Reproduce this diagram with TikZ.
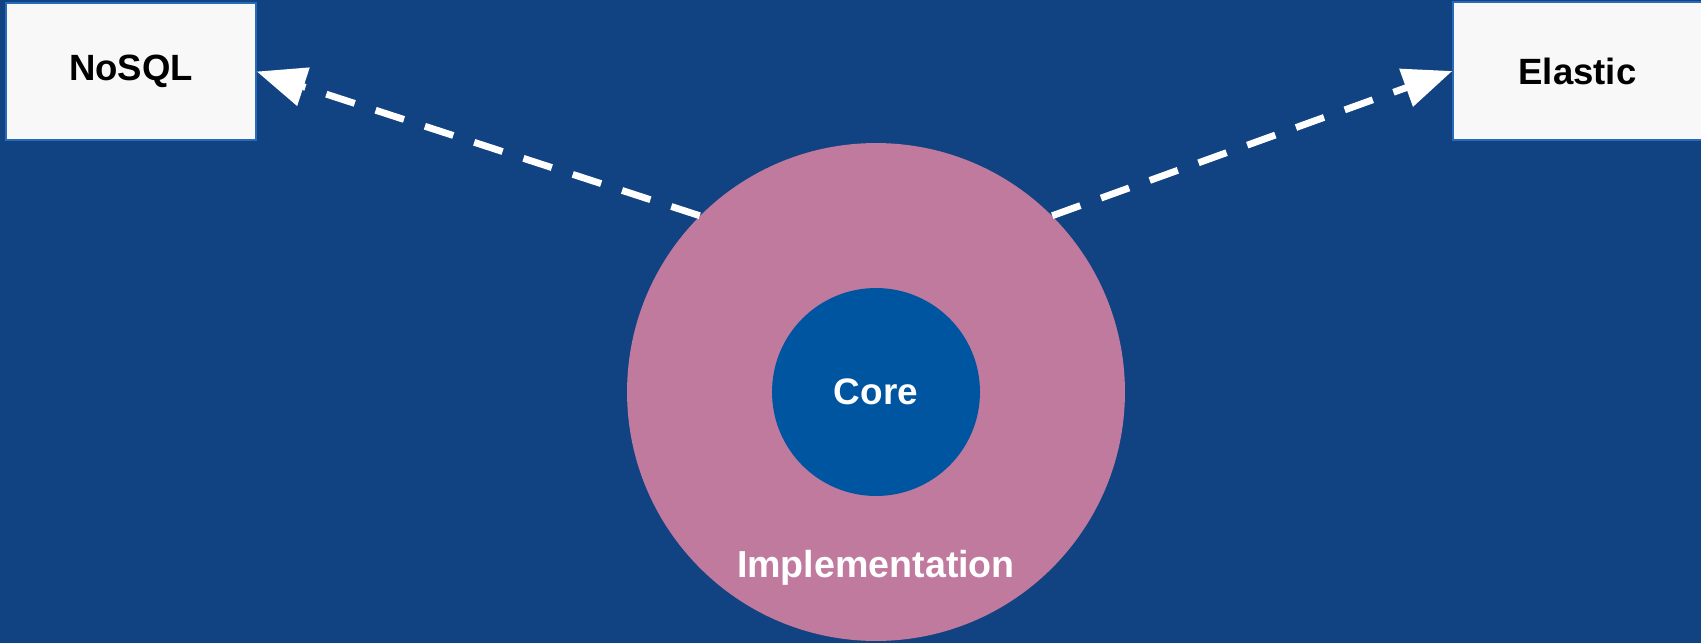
\documentclass[tikz,border=0pt]{standalone}
\usepackage{fontspec}
\setmainfont{Liberation Sans}
\usetikzlibrary{arrows.meta}
\definecolor{bgblue}{RGB}{17,66,130}
\definecolor{pinkring}{RGB}{192,122,158}
\definecolor{coreblue}{RGB}{0,85,161}
\definecolor{boxfill}{RGB}{248,248,248}
\definecolor{boxedge}{RGB}{40,105,185}
\begin{document}
\begin{tikzpicture}[x=0.02cm,y=-0.02cm,
  store/.style={rectangle, fill=boxfill, draw=boxedge, line width=0.8pt, inner sep=0pt,
    font=\fontsize{20.8}{24}\selectfont\bfseries, text=black},
  ring/.style={circle, fill=pinkring, draw=none, inner sep=0pt, minimum size=9.96cm},
  corecirc/.style={circle, fill=coreblue, draw=none, inner sep=0pt, minimum size=4.16cm,
    font=\fontsize{21}{24}\selectfont\bfseries, text=white},
  lbl/.style={font=\fontsize{21.4}{25}\selectfont\bfseries, text=white, inner sep=0pt},
  arr/.style={draw=white, line width=3.9pt, dash pattern=on 17pt off 12.5pt,
    -{Triangle[length=28pt,width=22pt]}}
]
\useasboundingbox (0,0) rectangle (1701,643);
\fill[bgblue] (0,0) rectangle (1701,643);
\node[store, minimum width=5cm, minimum height=2.74cm] (nosql) at (131,71.5) {NoSQL};
\node[store, minimum width=4.98cm, minimum height=2.76cm] (elastic) at (1577.5,71) {Elastic};
\node[ring] (outer) at (876,392) {};
\node[corecirc] (core) at (876,392) {Core};
\node[lbl] (impl) at (876,568) {Implementation};
\draw[arr] (outer.135) -- (nosql.east);
\draw[arr] (outer.45) -- (elastic.west);
\end{tikzpicture}
\end{document}
